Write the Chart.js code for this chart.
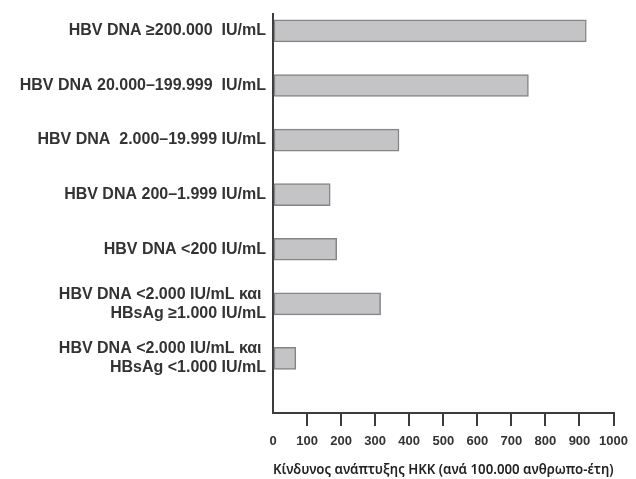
<!DOCTYPE html>
<html>
<head>
<meta charset="utf-8">
<script src="https://cdn.jsdelivr.net/npm/chart.js@4.4.1/dist/chart.umd.min.js"></script>
<style>
    html, body { margin: 0; padding: 0; background: #fff; }
    #wrap { width: 636px; height: 479px; }
</style>
</head>
<body>
<div id="wrap"><canvas id="hbvChart"></canvas></div>
<script>
const groupLabels = [
    "HBV DNA ≥200.000  IU/mL",
    "HBV DNA 20.000–199.999  IU/mL",
    "HBV DNA  2.000–19.999 IU/mL",
    "HBV DNA 200–1.999 IU/mL",
    "HBV DNA <200 IU/mL",
    ["HBV DNA <2.000 IU/mL και ", "HBsAg ≥1.000 IU/mL"],
    ["HBV DNA <2.000 IU/mL και ", "HBsAg <1.000 IU/mL"]
];
const riskValues = [920, 750, 370, 168, 187, 316, 67];
const xTicks = [0, 100, 200, 300, 400, 500, 600, 700, 800, 900, 1000];
const xTitle = "Κίνδυνος ανάπτυξης ΗΚΚ (ανά 100.000 ανθρωπο-έτη)";

const axisColor = "#3c3c3c";

const ctx = document.getElementById("hbvChart").getContext("2d");

new Chart(ctx, {
    type: "bar",
    data: {
        datasets: [{
            data: riskValues.map((v, i) => ({ x: v, y: i })),
            backgroundColor: "#c4c4c6",
            borderColor: "#858585",
            borderWidth: 1.5,
            borderSkipped: false,
            barThickness: 22
        }]
    },
    options: {
        indexAxis: "y",
        responsive: true,
        maintainAspectRatio: false,
        animation: false,
        layout: { padding: { left: 0, top: 14, right: 19, bottom: 0 } },
        plugins: {
            legend: { display: false },
            tooltip: { enabled: false }
        },
        scales: {
            y: {
                type: "linear",
                reverse: true,
                offset: false,
                min: -0.31,
                max: 7.0,
                afterFit: scale => {
                    scale.width = 273;
                    scale.paddingTop = 0;
                    scale.paddingBottom = 0;
                },
                border: { display: true, color: axisColor, width: 2 },
                grid: { display: false, drawTicks: false, offset: false },
                ticks: {
                    stepSize: 1,
                    includeBounds: false,
                    autoSkip: false,
                    padding: 7,
                    color: "#333",
                    font: { family: "Liberation Sans, Arial, sans-serif", size: 16, weight: "bold", lineHeight: 1.2 },
                    callback: v => groupLabels[v] ?? ""
                }
            },
            x: {
                type: "linear",
                min: xTicks[0],
                max: xTicks[xTicks.length - 1],
                afterFit: scale => { scale.height = 66; },
                border: { display: true, color: axisColor, width: 2 },
                grid: {
                    display: true,
                    drawOnChartArea: false,
                    drawTicks: true,
                    tickLength: 13,
                    lineWidth: 2,
                    tickWidth: 2,
                    color: axisColor,
                    tickColor: xTicks.map(v => v === 0 ? "rgba(0,0,0,0)" : axisColor)
                },
                ticks: {
                    stepSize: xTicks[1] - xTicks[0],
                    autoSkip: false,
                    padding: 8,
                    color: "#333",
                    maxRotation: 0,
                    font: { family: "Liberation Sans, Arial, sans-serif", size: 13, weight: "bold" },
                    callback: v => String(v)
                },
                title: {
                    display: true,
                    text: xTitle,
                    color: "#222",
                    padding: { top: 0, bottom: 0 },
                    font: { family: "Noto Sans", size: 14.5, weight: "600", lineHeight: 1.2 }
                }
            }
        }
    }
});
</script>
</body>
</html>
